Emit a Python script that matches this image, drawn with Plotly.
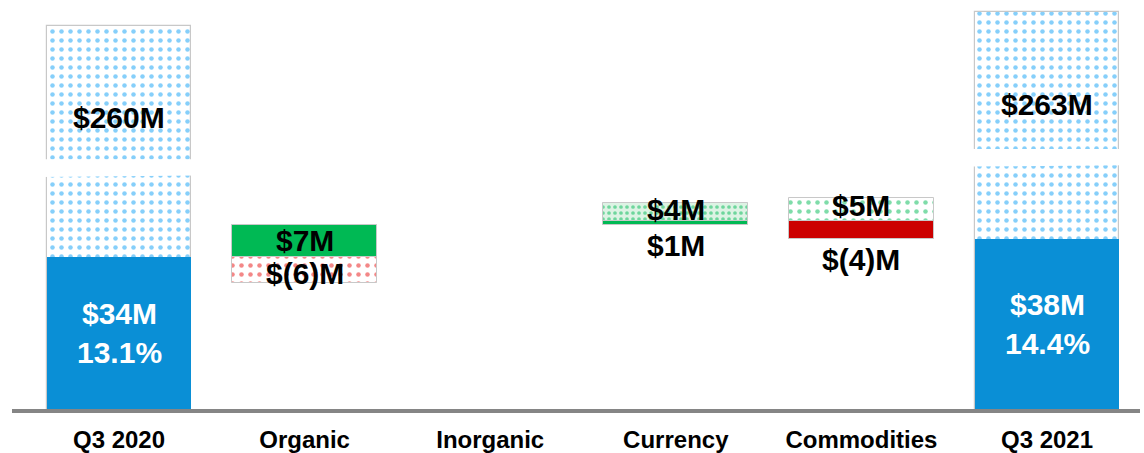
import plotly.graph_objects as go

# ---- data -------------------------------------------------------------
categories = ["Q3 2020", "Organic", "Inorganic", "Currency", "Commodities", "Q3 2021"]

revenue_start = 260          # $M
revenue_end = 263            # $M
ebit_start = 34              # $M
ebit_end = 38                # $M

# bridge steps (Organic, Inorganic, Currency, Commodities)
step_names = ["Organic", "Inorganic", "Currency", "Commodities"]
revenue_steps = [-6, 0, 4, 5]
ebit_steps = [7, 0, 1, -4]

# ---- style ------------------------------------------------------------
AXIS_CUT = 174.5             # hidden span of the broken axis ($M)
BREAK_CENTERS = [53.8, 56.1] # where the break band crosses each total bar
BREAK_HALF = 1.9
BAR_W = 0.78

BLUE = "#0A8FD6"
BLUE_DOT = "#0EA0F5"
GREEN = "#00B954"
RED = "#CC0000"
RED_DOT = "#E80F0F"
OUTLINE = "#C8C8C8"
FONT = "Liberation Sans, Arial, sans-serif"


def dotted(fg, bg="white", size=9, solidity=0.2):
    return dict(shape=".", fgcolor=fg, bgcolor=bg, size=size,
                solidity=solidity, fillmode="overlay")


fig = go.Figure()

# total revenue bars (dotted, drawn on the broken axis)
tot_x = [categories[0], categories[-1]]
rev_tot = [revenue_start, revenue_end]
ebit_tot = [ebit_start, ebit_end]
fig.add_trace(go.Bar(
    x=tot_x, y=[r - AXIS_CUT for r in rev_tot], width=BAR_W,
    marker=dict(color="white", pattern=dotted(BLUE_DOT),
                line=dict(color=OUTLINE, width=1.2)),
    hoverinfo="skip", showlegend=False))

# total EBIT bars (solid)
fig.add_trace(go.Bar(
    x=tot_x, y=ebit_tot, width=BAR_W,
    marker=dict(color=BLUE, line=dict(width=0)),
    hoverinfo="skip", showlegend=False))

# bridge steps: EBIT solid, revenue dotted on top of the EBIT level
level = ebit_start
for name, de, dr in zip(step_names, ebit_steps, revenue_steps):
    before, after = level, level + de
    if de != 0:
        fig.add_trace(go.Bar(
            x=[name], y=[de], base=[before], width=BAR_W,
            marker=dict(color=GREEN if de > 0 else RED,
                        line=dict(color=OUTLINE, width=1)),
            hoverinfo="skip", showlegend=False))
    if dr != 0:
        rbase = max(before, after) if dr > 0 else min(before, after)
        if dr > 0:
            pat = dotted(GREEN, bg="#DDF3E4", size=6, solidity=0.3) if de > 0 \
                else dotted(GREEN)
        else:
            pat = dotted(RED_DOT)
        fig.add_trace(go.Bar(
            x=[name], y=[dr], base=[rbase], width=BAR_W,
            marker=dict(color="white", pattern=pat,
                        line=dict(color=OUTLINE, width=1)),
            hoverinfo="skip", showlegend=False))
    level = after


def money(v):
    return f"${v}M" if v >= 0 else f"$({-v})M"


ann = []
LBL = dict(family=FONT, size=30, color="black", weight="bold")
WLBL = dict(family=FONT, size=30, color="white", weight="bold")

# labels for totals
for i, (x, r, e) in enumerate(zip(tot_x, rev_tot, ebit_tot)):
    ann.append(dict(x=x, y=r - AXIS_CUT, text=money(r), showarrow=False,
                    yanchor="middle", yshift=-92, font=LBL))
    ann.append(dict(x=x, y=e / 2, text=money(e), showarrow=False,
                    yanchor="middle", yshift=19, font=WLBL))
    ann.append(dict(x=x, y=e / 2, text=f"{e / r * 100:.1f}%", showarrow=False,
                    yanchor="middle", yshift=-20, font=WLBL))

# labels for bridge steps
level = ebit_start
for name, de, dr in zip(step_names, ebit_steps, revenue_steps):
    before, after = level, level + de
    if de == 0 and dr == 0:
        level = after
        continue
    lo, hi = min(before, after), max(before, after)
    rbase = hi if dr > 0 else lo
    if dr < 0:
        # EBIT up inside its bar, revenue down inside its bar
        ann.append(dict(x=name, y=(before + after) / 2, text=money(de),
                        showarrow=False, yanchor="middle", font=LBL))
        ann.append(dict(x=name, y=rbase + dr / 2, text=money(dr),
                        showarrow=False, yanchor="middle", yshift=-4, font=LBL))
    else:
        ann.append(dict(x=name, y=rbase + dr / 2, text=money(dr),
                        showarrow=False, yanchor="middle",
                        yshift=2 if de > 0 else 4, font=LBL))
        ann.append(dict(x=name, y=lo, text=money(de), showarrow=False,
                        yanchor="top", yshift=-2, font=LBL))
    level = after

# break bands across the total bars
shapes = []
for i, c in zip([0, len(categories) - 1], BREAK_CENTERS):
    x0, x1 = i - BAR_W / 2 - 0.04, i + BAR_W / 2 + 0.04
    shapes.append(dict(
        type="path", xref="x", yref="y",
        path=(f"M {x0},{c - BREAK_HALF - 0.15} L {x1},{c - BREAK_HALF + 0.15} "
              f"L {x1},{c + BREAK_HALF} L {x0},{c + BREAK_HALF} Z"),
        fillcolor="white", line=dict(width=0), layer="above"))

fig.update_layout(
    width=1144, height=453,
    margin=dict(l=12, r=4, t=0, b=40),
    paper_bgcolor="white", plot_bgcolor="white",
    barmode="overlay", bargap=0,
    annotations=ann, shapes=shapes,
    xaxis=dict(type="category", categoryorder="array", categoryarray=categories,
               range=[-0.5765, 5.501], showgrid=False, zeroline=False,
               showline=True, linecolor="#858585", linewidth=3.5,
               ticks="outside", ticklen=6, tickcolor="rgba(0,0,0,0)",
               tickfont=dict(family=FONT, size=24, color="black", weight="bold")),
    yaxis=dict(range=[0, 91.2], visible=False),
)

fig.write_html("out.html")
